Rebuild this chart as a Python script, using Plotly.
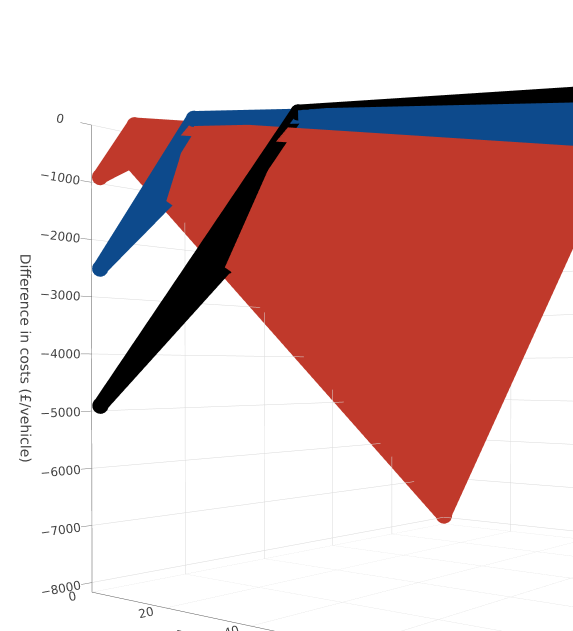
import plotly.graph_objects as go

# Vertices: tip, threshold on BEV, threshold on PHEV, BEV end, PHEV end
red_bev = [1, 12, 0, 100, 0]
red_phev = [1, 0, 8, 0, 100]
red_cost = [-900, -170, -500, -1770, -7950]

blue_bev = [1, 27, 0, 100, 0]
blue_phev = [1, 0, 16.5, 0, 100]
blue_cost = [-2500, -280, -1050, -1230, -7900]

black_bev = [1, 50, 0, 100, 0]
black_phev = [1, 0, 30, 0, 100]
black_cost = [-4900, -520, -2220, -1030, -7800]

tri_i = [0, 1, 2]
tri_j = [1, 2, 3]
tri_k = [2, 3, 4]
red_edges = [0, 1, 3, 4, 2, 0]
other_edges = [2, 0, 1, 3]
share_ticks = [0, 20, 40, 60, 80, 100]
cost_ticks = [0, -1000, -2000, -3000, -4000, -5000, -6000, -7000, -8000]

RED, BLUE, BLACK = "#C0392B", "#0D4A8C", "#000000"
fig = go.Figure()
for xs, ys, zs, col, edges in [(black_bev, black_phev, black_cost, BLACK, other_edges),
                               (blue_bev, blue_phev, blue_cost, BLUE, other_edges),
                               (red_bev, red_phev, red_cost, RED, red_edges)]:
    fig.add_trace(go.Mesh3d(x=xs, y=ys, z=zs, i=tri_i, j=tri_j, k=tri_k, color=col,
                            flatshading=True, showlegend=False, hoverinfo="skip",
                            lighting=dict(ambient=1, diffuse=0, specular=0, roughness=1, fresnel=0)))
    fig.add_trace(go.Scatter3d(x=[xs[n] for n in edges], y=[ys[n] for n in edges],
                               z=[zs[n] for n in edges], mode="lines+markers",
                               line=dict(color=col, width=30),
                               marker=dict(color=col, size=9.5, line=dict(width=0)),
                               showlegend=False))

def axis(title, ticks, rng, tick_mode=""):
    return dict(title=dict(text=title, font=dict(size=14, color="#444")), tickvals=ticks, range=rng,
                tickfont=dict(size=12, color="#444"), showbackground=False, gridcolor="#d9d9d9",
                linecolor="#555", showspikes=False, zeroline=False, showline=True,
                ticks=tick_mode, ticklen=16, tickwidth=1, tickcolor="#777")

fig.update_layout(
    template="none", width=800, height=880, margin=dict(l=0, r=0, t=0, b=0),
    font=dict(family="DejaVu Sans"), showlegend=False, paper_bgcolor="white",
    scene=dict(
        xaxis=axis("BEV Sales Share (%)", share_ticks, [0, 100]),
        yaxis=axis("PHEV Sales Share (%)", share_ticks, [0, 100]),
        zaxis=axis("Difference in costs (£/vehicle)", cost_ticks, [-8170, 0], "outside"),
        aspectmode="manual", aspectratio=dict(x=1.05, y=1.1, z=0.86),
        camera=dict(eye=dict(x=1.138, y=-1.732, z=-0.02), center=dict(x=-0.094, y=-0.156, z=-0.03),
                    up=dict(x=0, y=0, z=1), projection=dict(type="perspective")),
        domain=dict(x=[0, 1], y=[0, 1]),
    ),
)
post = """
var g=document.getElementById('{plot_id}');
document.documentElement.style.overflow='hidden';
document.body.style.overflow='hidden';
document.body.style.margin='0';
g.style.position='absolute'; g.style.left='8px'; g.style.top='-65px';
"""
fig.write_html("out.html", post_script=post)
